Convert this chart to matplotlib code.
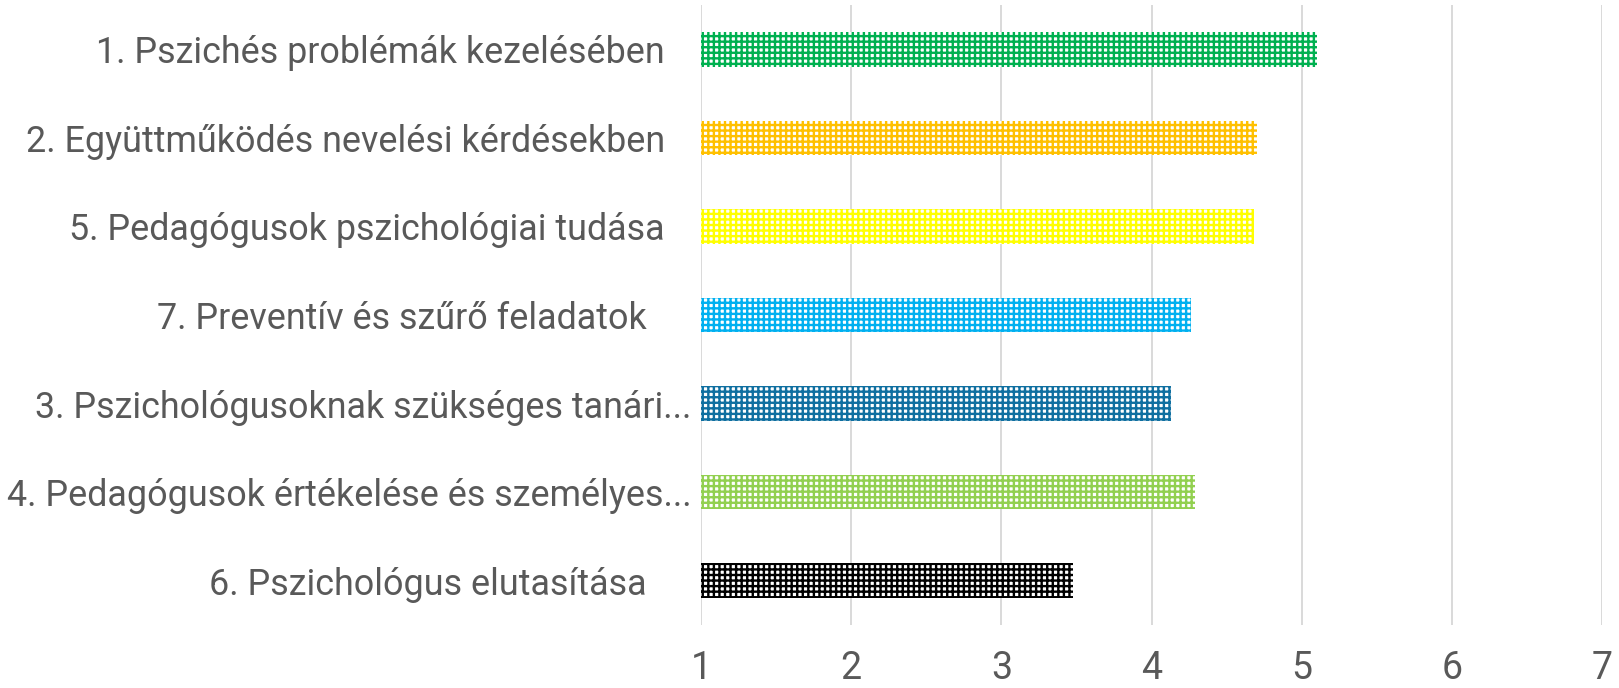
import matplotlib
matplotlib.use("Agg")
import matplotlib.pyplot as plt

# categories top to bottom, as shown
categories = [
    "1. Pszichés problémák kezelésében   ",
    "2. Együttműködés nevelési kérdésekben   ",
    "5. Pedagógusok pszichológiai tudása   ",
    "7. Preventív és szűrő feladatok     ",
    "3. Pszichológusoknak szükséges tanári...",
    "4. Pedagógusok értékelése és személyes...",
    "6. Pszichológus elutasítása     ",
]
values = [5.10, 4.70, 4.68, 4.26, 4.13, 4.29, 3.48]
colors = ["#00B050", "#FFC000", "#FFFF00", "#00B0F0", "#0F6FA0", "#92D050", "#000000"]
xticks = [1, 2, 3, 4, 5, 6, 7]
x_start = 1

plt.rcParams['hatch.linewidth'] = 1.7
plt.rcParams['font.family'] = ['Roboto', 'DejaVu Sans']

fig = plt.figure(figsize=(16.19, 6.88), dpi=100)
ax = fig.add_axes([0.433, 0.0916, 0.5565, 0.9011])

ypos = list(range(len(categories)))
widths = [v - x_start for v in values]
ax.barh(ypos, widths, left=x_start, height=0.39, color="white",
        edgecolor=colors, hatch="+++", linewidth=0, zorder=3)

ax.set_xlim(1, 7)
ax.set_ylim(len(categories) - 0.5, -0.5)
ax.set_xticks(xticks)
ax.set_xticklabels([str(t) for t in xticks], fontsize=27, color="#595959")
ax.set_yticks(ypos)
ax.set_yticklabels(categories, fontsize=25.8, color="#595959")
ax.tick_params(axis="both", length=0)
ax.tick_params(axis="x", pad=18)
ax.tick_params(axis="y", pad=7)
ax.xaxis.grid(True, color="#D9D9D9", linewidth=1.4, zorder=0)
ax.set_axisbelow(True)
for s in ax.spines.values():
    s.set_visible(False)

fig.savefig("out.png", dpi=100)
